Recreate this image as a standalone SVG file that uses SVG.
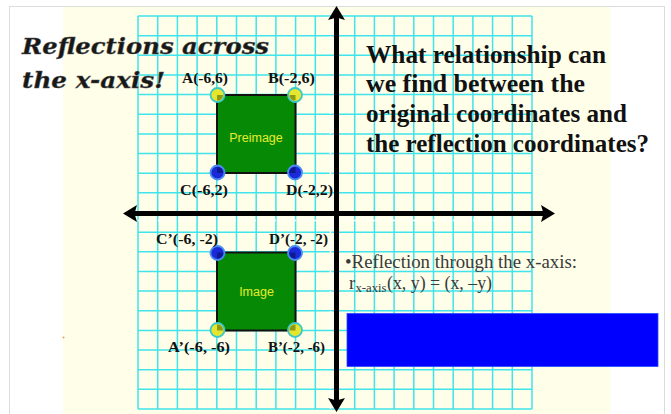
<svg xmlns="http://www.w3.org/2000/svg" width="671" height="414" viewBox="0 0 671 414">
  <style>
    .lbl { font-family: "Liberation Serif", "Times New Roman", serif; font-weight: bold; font-size: 15px; fill: #111; }
    .q { font-family: "Liberation Serif", "Times New Roman", serif; font-weight: bold; font-size: 25px; fill: #111; }
    .title { font-family: "DejaVu Serif", "Liberation Serif", serif; font-weight: bold; font-style: italic; font-size: 22px; fill: #181818; stroke: #555; stroke-width: 0.4; }
    .rule { font-family: "Liberation Serif", "Times New Roman", serif; font-size: 18.5px; fill: #3a3a3a; }
    .sqname { font-family: "Liberation Sans", Arial, sans-serif; font-size: 12.5px; fill: #E8EC2C; text-anchor: middle; }
    .sq { fill: #068A06; stroke: #111; stroke-width: 2; }
    .ptY { fill: #E6E62E; stroke: #3CC8C8; stroke-width: 1.8; }
    .ptB { fill: #1A2AD8; stroke: #4C8CF0; stroke-width: 1.8; }
    .inY { fill: #8C9A14; }
    .inB { fill: #0E1A90; }
    .axis { stroke: #000; stroke-width: 5; fill: none; }
  </style>
  <defs>
    <marker id="ah" viewBox="0 0 14 17" refX="6" refY="8.5" markerWidth="14" markerHeight="17" markerUnits="userSpaceOnUse" orient="auto-start-reverse">
      <path d="M0,0 L14,8.5 L0,17 L2.5,8.5 Z" fill="#000"/>
    </marker>
    <clipPath id="clipPre"><rect x="217" y="95" width="78.5" height="78"/></clipPath>
    <clipPath id="clipImg"><rect x="217" y="252.5" width="78.5" height="78"/></clipPath>
  </defs>

  <!-- slide background -->
  <rect x="0" y="0" width="671" height="414" fill="#fff"/>
  <rect x="9.5" y="6.5" width="655" height="420" fill="#fff" stroke="#DCDCDC" stroke-width="1"/>
  <rect x="63" y="7" width="547" height="407" fill="#FFFEE8"/>
  <circle cx="63.5" cy="337.5" r="1" fill="#F0A050"/>

  <!-- grid -->
  <g id="grid" stroke="#3FE4EC" stroke-width="1.5" fill="none">
    <path d="M138,16V409 M157.7,16V409 M177.4,16V409 M197.1,16V409 M216.8,16V409 M236.5,16V409 M256.2,16V409 M275.9,16V409 M295.6,16V409 M315.3,16V409 M335,16V409 M354.7,16V409 M374.4,16V409 M394.1,16V409 M413.8,16V409 M433.5,16V409 M453.2,16V409 M472.9,16V409 M492.6,16V409 M512.3,16V409 M532,16V409"/>
    <path d="M138,16H532 M138,35.65H532 M138,55.3H532 M138,74.95H532 M138,94.6H532 M138,114.25H532 M138,133.9H532 M138,153.55H532 M138,173.2H532 M138,192.85H532 M138,212.5H532 M138,232.15H532 M138,251.8H532 M138,271.45H532 M138,291.1H532 M138,310.75H532 M138,330.4H532 M138,350.05H532 M138,369.7H532 M138,389.35H532 M138,409H532"/>
  </g>
  <g id="grid-gaps" stroke="#FFFFFF" stroke-width="1.6" stroke-dasharray="3 2" fill="none">
    <path d="M138,220.5H532"/>
    <path d="M330.5,16V409"/>
  </g>

  <!-- axes (connectors) -->
  <g id="connectors">
    <line id="y-axis" class="axis" x1="336.5" y1="404" x2="336.5" y2="14" marker-start="url(#ah)" marker-end="url(#ah)"/>
    <line id="x-axis" class="axis" x1="131" y1="213.5" x2="547" y2="213.5" marker-start="url(#ah)" marker-end="url(#ah)"/>
  </g>

  <!-- preimage square -->
  <g id="preimage">
    <rect class="sq" x="217" y="95" width="78.5" height="78"/>
    <text class="sqname" x="256" y="141.5">Preimage</text>
  </g>
  <g id="image">
    <rect class="sq" x="217" y="252.5" width="78.5" height="78"/>
    <text class="sqname" x="256.5" y="296">Image</text>
  </g>

  <!-- vertices -->
  <g id="point-A"><circle class="ptY" cx="217.5" cy="95" r="7"/><text class="lbl" x="182" y="83" textLength="46" lengthAdjust="spacingAndGlyphs">A(-6,6)</text></g>
  <g id="point-B"><circle class="ptY" cx="295" cy="95" r="7"/><text class="lbl" x="268" y="83" textLength="47" lengthAdjust="spacingAndGlyphs">B(-2,6)</text></g>
  <g id="point-C"><circle class="ptB" cx="217.5" cy="172.5" r="7"/><text class="lbl" x="180" y="195" textLength="48" lengthAdjust="spacingAndGlyphs">C(-6,2)</text></g>
  <g id="point-D"><circle class="ptB" cx="295" cy="172.5" r="7"/><text class="lbl" x="286" y="194.5" textLength="47" lengthAdjust="spacingAndGlyphs">D(-2,2)</text></g>
  <g clip-path="url(#clipPre)">
    <circle class="inY" cx="217.5" cy="95" r="5.5"/>
    <circle class="inY" cx="295" cy="95" r="5.5"/>
    <circle class="inB" cx="217.5" cy="172.5" r="5.5"/>
    <circle class="inB" cx="295" cy="172.5" r="5.5"/>
  </g>

  <g id="point-C2"><circle class="ptB" cx="217.5" cy="253" r="7"/><text class="lbl" x="156" y="244" textLength="62" lengthAdjust="spacingAndGlyphs">C’(-6, -2)</text></g>
  <g id="point-D2"><circle class="ptB" cx="295" cy="253" r="7"/><text class="lbl" x="269" y="244" textLength="59" lengthAdjust="spacingAndGlyphs">D’(-2, -2)</text></g>
  <g id="point-A2"><circle class="ptY" cx="217.5" cy="330" r="7"/><text class="lbl" x="168" y="352" textLength="62" lengthAdjust="spacingAndGlyphs">A’(-6, -6)</text></g>
  <g id="point-B2"><circle class="ptY" cx="295" cy="330" r="7"/><text class="lbl" x="268" y="352" textLength="57" lengthAdjust="spacingAndGlyphs">B’(-2, -6)</text></g>
  <g clip-path="url(#clipImg)">
    <circle class="inB" cx="217.5" cy="253" r="5.5"/>
    <circle class="inB" cx="295" cy="253" r="5.5"/>
    <circle class="inY" cx="217.5" cy="330" r="5.5"/>
    <circle class="inY" cx="295" cy="330" r="5.5"/>
  </g>

  <!-- title -->
  <g id="title">
    <text class="title" x="22" y="54" textLength="247" lengthAdjust="spacingAndGlyphs">Reflections across</text>
    <text class="title" x="22" y="88" textLength="143" lengthAdjust="spacingAndGlyphs">the x-axis!</text>
  </g>

  <!-- question -->
  <g id="question">
    <text class="q" x="366" y="63" textLength="240" lengthAdjust="spacingAndGlyphs">What relationship can</text>
    <text class="q" x="366" y="92" textLength="219" lengthAdjust="spacingAndGlyphs">we find between the</text>
    <text class="q" x="366" y="121.5" textLength="261" lengthAdjust="spacingAndGlyphs">original coordinates and</text>
    <text class="q" x="366" y="151.5" textLength="283" lengthAdjust="spacingAndGlyphs">the reflection coordinates?</text>
  </g>

  <!-- rule -->
  <g id="rule">
    <text class="rule" x="345" y="267.5" textLength="232" lengthAdjust="spacingAndGlyphs">•Reflection through the x-axis:</text>
    <text class="rule" x="349" y="288.5">r</text>
    <text class="rule" x="355.5" y="291.5" style="font-size:12px" textLength="31" lengthAdjust="spacingAndGlyphs">x-axis</text>
    <text class="rule" x="387" y="288.5" textLength="105" lengthAdjust="spacingAndGlyphs">(x, y) = (x, –y)</text>
  </g>

  <!-- answer cover box -->
  <g id="cover-box">
    <rect x="347" y="313.5" width="311" height="53" fill="#0000FF" stroke="#2A4AFF" stroke-width="0.8"/>
  </g>
</svg>
